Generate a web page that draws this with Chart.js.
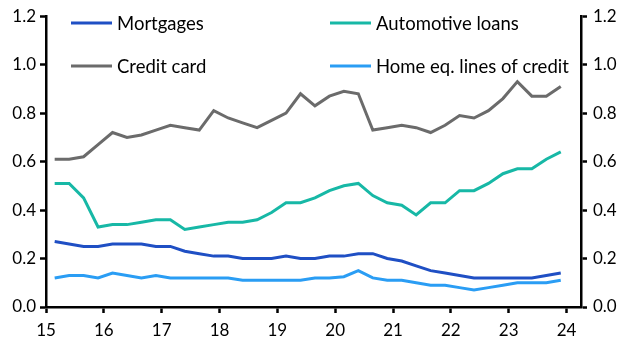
<!DOCTYPE html>
<html>
<head>
<meta charset="utf-8">
<script src="https://cdn.jsdelivr.net/npm/chart.js@4.4.1/dist/chart.umd.min.js"></script>
<style>
  html, body { margin: 0; padding: 0; background: #fff; }
  #wrap { width: 627px; height: 353px; }
</style>
</head>
<body>
<div id="wrap"><canvas id="loans"></canvas></div>
<script>
// Quarterly points, 2015 Q1 .. 2023 Q4
const startYear = 15.15;
const xTicks = [15, 16, 17, 18, 19, 20, 21, 22, 23, 24];
const mortgages = [0.27, 0.26, 0.25, 0.25, 0.26, 0.26, 0.26, 0.25, 0.25, 0.23, 0.22, 0.21,
  0.21, 0.20, 0.20, 0.20, 0.21, 0.20, 0.20, 0.21, 0.21, 0.22, 0.22, 0.20,
  0.19, 0.17, 0.15, 0.14, 0.13, 0.12, 0.12, 0.12, 0.12, 0.12, 0.13, 0.14];
const autoLoans = [0.51, 0.51, 0.45, 0.33, 0.34, 0.34, 0.35, 0.36, 0.36, 0.32, 0.33, 0.34,
  0.35, 0.35, 0.36, 0.39, 0.43, 0.43, 0.45, 0.48, 0.50, 0.51, 0.46, 0.43,
  0.42, 0.38, 0.43, 0.43, 0.48, 0.48, 0.51, 0.55, 0.57, 0.57, 0.61, 0.64];
const creditCard = [0.61, 0.61, 0.62, 0.67, 0.72, 0.70, 0.71, 0.73, 0.75, 0.74, 0.73, 0.81,
  0.78, 0.76, 0.74, 0.77, 0.80, 0.88, 0.83, 0.87, 0.89, 0.88, 0.73, 0.74,
  0.75, 0.74, 0.72, 0.75, 0.79, 0.78, 0.81, 0.86, 0.93, 0.87, 0.87, 0.91];
const homeEquity = [0.12, 0.13, 0.13, 0.12, 0.14, 0.13, 0.12, 0.13, 0.12, 0.12, 0.12, 0.12,
  0.12, 0.11, 0.11, 0.11, 0.11, 0.11, 0.12, 0.12, 0.125, 0.15, 0.12, 0.11,
  0.11, 0.10, 0.09, 0.09, 0.08, 0.07, 0.08, 0.09, 0.10, 0.10, 0.10, 0.11];
const seriesNames = ['Mortgages', 'Automotive loans', 'Credit card', 'Home eq. lines of credit'];
const seriesColors = ['#1f4fc4', '#17b8a6', '#6b6b6b', '#2a9df4'];

function toPoints(arr) {
  return arr.map((v, i) => ({ x: startYear + i * 0.25, y: v }));
}

const allSeries = [mortgages, autoLoans, creditCard, homeEquity];
const datasets = allSeries.map((s, i) => ({
  label: seriesNames[i],
  data: toPoints(s),
  borderColor: seriesColors[i],
  backgroundColor: seriesColors[i],
  borderWidth: 3,
  pointRadius: 0,
  tension: 0,
  yAxisID: 'y'
}));

// legend drawn inside the plot, two columns
const insideLegend = {
  id: 'insideLegend',
  afterDraw(chart) {
    const ctx = chart.ctx;
    const colX = [71, 330];
    const rowY = [23, 66];
    ctx.save();
    ctx.font = '18.5px Lato';
    ctx.textBaseline = 'middle';
    ctx.fillStyle = '#000';
    chart.data.datasets.forEach((ds, i) => {
      const x = colX[i % 2], y = rowY[Math.floor(i / 2)];
      ctx.strokeStyle = ds.borderColor;
      ctx.lineWidth = 3;
      ctx.beginPath();
      ctx.moveTo(x, y);
      ctx.lineTo(x + 41, y);
      ctx.stroke();
      ctx.fillText(ds.label, x + 46, y + 1);
    });
    ctx.restore();
  }
};

const axisGrid = {
  drawOnChartArea: false,
  drawTicks: true,
  tickLength: 6,
  tickColor: '#000',
  tickWidth: 2.5
};
const axisBorder = { display: true, color: '#000', width: 2.5 };
const tickFont = { family: 'Lato', size: 17 };

new Chart(document.getElementById('loans').getContext('2d'), {
  type: 'line',
  data: { datasets: datasets },
  options: {
    responsive: true,
    maintainAspectRatio: false,
    animation: false,
    layout: { padding: { top: 14, left: 0, right: 0, bottom: 0 } },
    plugins: { legend: { display: false }, tooltip: { enabled: false } },
    scales: {
      x: {
        type: 'linear',
        min: 15,
        max: 24.25,
        grid: axisGrid,
        border: axisBorder,
        ticks: { color: '#000', font: tickFont, padding: 7, maxRotation: 0, autoSkip: false,
          callback: v => String(v) },
        afterBuildTicks(scale) {
          scale.ticks = xTicks.map(v => ({ value: v }));
        },
        afterFit(scale) { scale.height = 46; }
      },
      y: {
        position: 'left',
        min: 0,
        max: 1.2,
        grid: axisGrid,
        border: axisBorder,
        ticks: { stepSize: 0.2, color: '#000', font: tickFont, padding: 4,
          callback: v => v.toFixed(1) },
        afterFit(scale) { scale.width = 46; }
      },
      y2: {
        position: 'right',
        min: 0,
        max: 1.2,
        grid: axisGrid,
        border: axisBorder,
        ticks: { stepSize: 0.2, color: '#000', font: tickFont, padding: 6,
          callback: v => v.toFixed(1) },
        afterFit(scale) { scale.width = 46; }
      }
    }
  },
  plugins: [insideLegend]
});
</script>
</body>
</html>
